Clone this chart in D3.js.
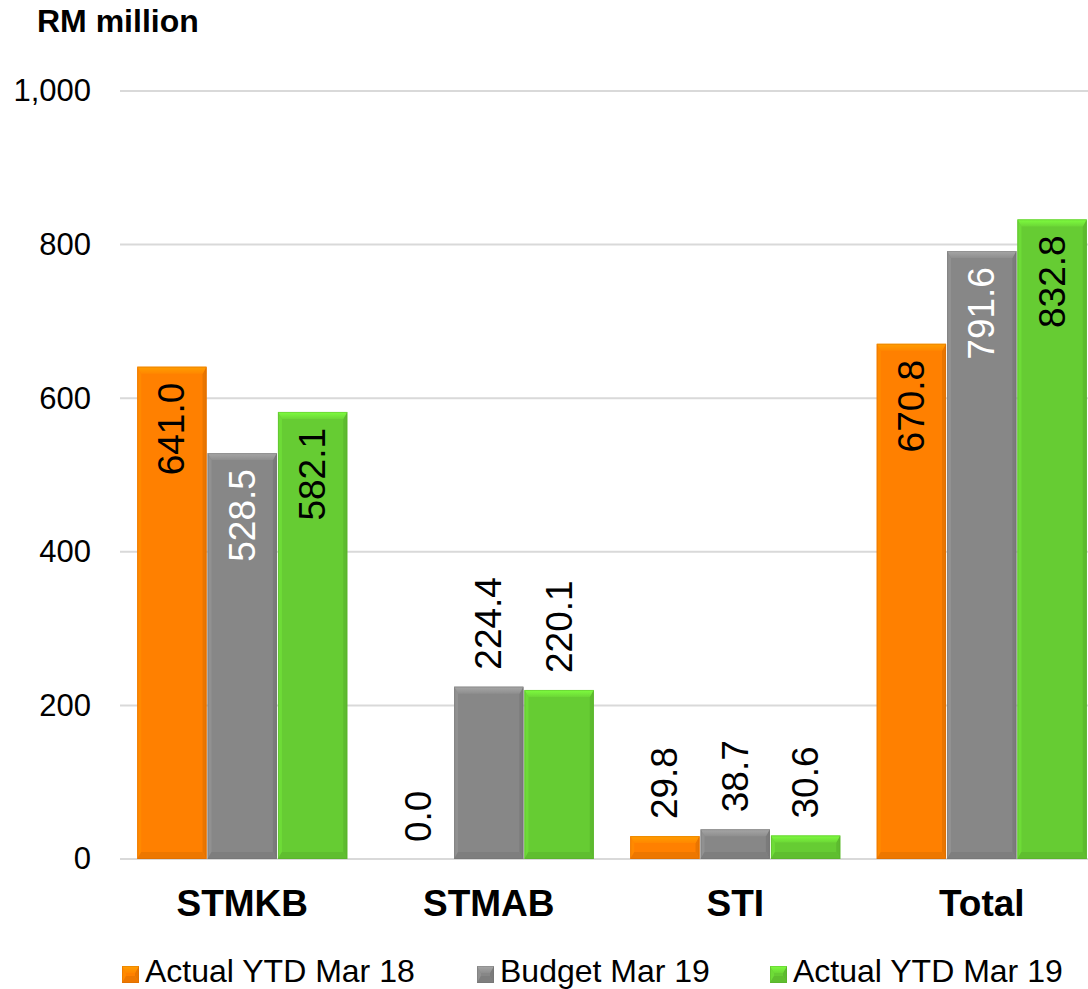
<!DOCTYPE html>
<html>
<head>
<meta charset="utf-8">
<script src="https://cdn.jsdelivr.net/npm/d3@7"></script>
<style>
  html, body { margin: 0; padding: 0; background: #fff; }
  svg { display: block; font-family: "Liberation Sans", Arial, sans-serif; }
</style>
</head>
<body>
<svg id="chart" width="1088" height="989"></svg>
<script>
// Revenue by unit, RM million
const categories = ["STMKB", "STMAB", "STI", "Total"];
const seriesNames = ["Actual YTD Mar 18", "Budget Mar 19", "Actual YTD Mar 19"];
const actualMar18 = [641.0, 0.0, 29.8, 670.8];
const budgetMar19 = [528.5, 224.4, 38.7, 791.6];
const actualMar19 = [582.1, 220.1, 30.6, 832.8];
const yTicks = [0, 200, 400, 600, 800, 1000];

const seriesValues = [actualMar18, budgetMar19, actualMar19];
const seriesColors = ["#ff8000", "#878787", "#66cc33"];
const insideLabelColors = ["#000", "#fff", "#000"];

const svg = d3.select("#chart");
const W = 1088, H = 989;

const y = d3.scaleLinear().domain([0, 1000]).range([859, 91]);
const x0 = d3.scaleBand().domain(categories).range([119, 1105]).paddingInner(0.148).paddingOuter(0.074);
const x1 = d3.scaleBand().domain(d3.range(seriesNames.length)).range([0, x0.bandwidth()]).paddingInner(0.015);

// Title
svg.append("text")
  .attr("x", 37).attr("y", 32)
  .attr("font-size", 32).attr("font-weight", "bold")
  .text("RM million");

// Gridlines
svg.append("g").selectAll("line").data(yTicks).join("line")
  .attr("x1", 120).attr("x2", W)
  .attr("y1", d => y(d)).attr("y2", d => y(d))
  .attr("stroke", "#d9d9d9").attr("stroke-width", 2);

// Y axis labels
const yAxis = d3.axisLeft(y).tickValues(yTicks).tickSize(0).tickPadding(0)
  .tickFormat(d3.format(","));
svg.append("g").attr("transform", "translate(91,0)").call(yAxis)
  .call(g => g.select(".domain").remove())
  .selectAll("text")
  .attr("font-size", 31).attr("fill", "#000")
  .attr("font-family", "Liberation Sans, Arial, sans-serif");

// Gradient for the top highlight of each colour
const defs = svg.append("defs");
seriesColors.forEach((col, i) => {
  const c = d3.color(col);
  const grad = defs.append("linearGradient").attr("id", "top" + i)
    .attr("x1", 0).attr("y1", 0).attr("x2", 0).attr("y2", 1);
  grad.append("stop").attr("offset", "0%").attr("stop-color", c.brighter(0.6).formatHex());
  grad.append("stop").attr("offset", "100%").attr("stop-color", c.brighter(0.15).formatHex());
});

// Bevelled bar
function bevelBar(g, bx, by, bw, bh, si) {
  const color = seriesColors[si];
  const c = d3.color(color);
  const lighter = c.brighter(0.2).formatHex();
  const dark = c.darker(0.25).formatHex();
  const darker = c.darker(0.2).formatHex();
  const outline = c.darker(0.6).formatHex();
  const bt = Math.min(7, bh / 2), bs = Math.min(4, bw / 2);
  g.append("rect").attr("x", bx).attr("y", by).attr("width", bw).attr("height", bh).attr("fill", color);
  if (bh <= 0) return;
  const poly = pts => pts.map(p => p.join(",")).join(" ");
  g.append("polygon").attr("points", poly([[bx, by], [bx + bs, by + bt], [bx + bs, by + bh - bt], [bx, by + bh]])).attr("fill", lighter);
  g.append("polygon").attr("points", poly([[bx + bw, by], [bx + bw - bs, by + bt], [bx + bw - bs, by + bh - bt], [bx + bw, by + bh]])).attr("fill", dark);
  g.append("polygon").attr("points", poly([[bx, by + bh], [bx + bs, by + bh - bt], [bx + bw - bs, by + bh - bt], [bx + bw, by + bh]])).attr("fill", darker);
  g.append("polygon").attr("points", poly([[bx, by], [bx + bw, by], [bx + bw - bs, by + bt], [bx + bs, by + bt]])).attr("fill", `url(#top${si})`);
  g.append("rect").attr("x", bx + 0.5).attr("y", by + 0.5).attr("width", Math.max(0, bw - 1)).attr("height", Math.max(0, bh - 1))
    .attr("fill", "none").attr("stroke", outline).attr("stroke-opacity", 0.35).attr("stroke-width", 1);
}

const bars = svg.append("g");
const labels = svg.append("g");
categories.forEach((cat, ci) => {
  seriesValues.forEach((vals, si) => {
    const v = vals[ci];
    const bx = x0(cat) + x1(si);
    const bw = x1.bandwidth();
    const top = y(v), h = y(0) - y(v);
    bevelBar(bars, bx, top, bw, h, si);
    const inside = v > 300;
    const cx = bx + bw / 2;
    const ly = inside ? top + 16 : top - 17;
    labels.append("text")
      .attr("transform", `translate(${cx},${ly}) rotate(-90)`)
      .attr("text-anchor", inside ? "end" : "start")
      .attr("dominant-baseline", "central")
      .attr("font-size", 37)
      .attr("fill", inside ? insideLabelColors[si] : "#000")
      .text(d3.format(".1f")(v));
  });
});

// Category labels
svg.append("g").selectAll("text").data(categories).join("text")
  .attr("x", d => x0(d) + x0.bandwidth() / 2)
  .attr("y", 916)
  .attr("text-anchor", "middle")
  .attr("font-size", 37).attr("font-weight", "bold")
  .text(d => d);

// Legend
const legendX = [122, 477, 770];
const legend = svg.append("g");
seriesNames.forEach((name, i) => {
  const g = legend.append("g");
  bevelBar(g, legendX[i], 966, 17, 17, i);
  g.append("text").attr("x", legendX[i] + 23).attr("y", 982)
    .attr("font-size", 32).text(name);
});
</script>
</body>
</html>
